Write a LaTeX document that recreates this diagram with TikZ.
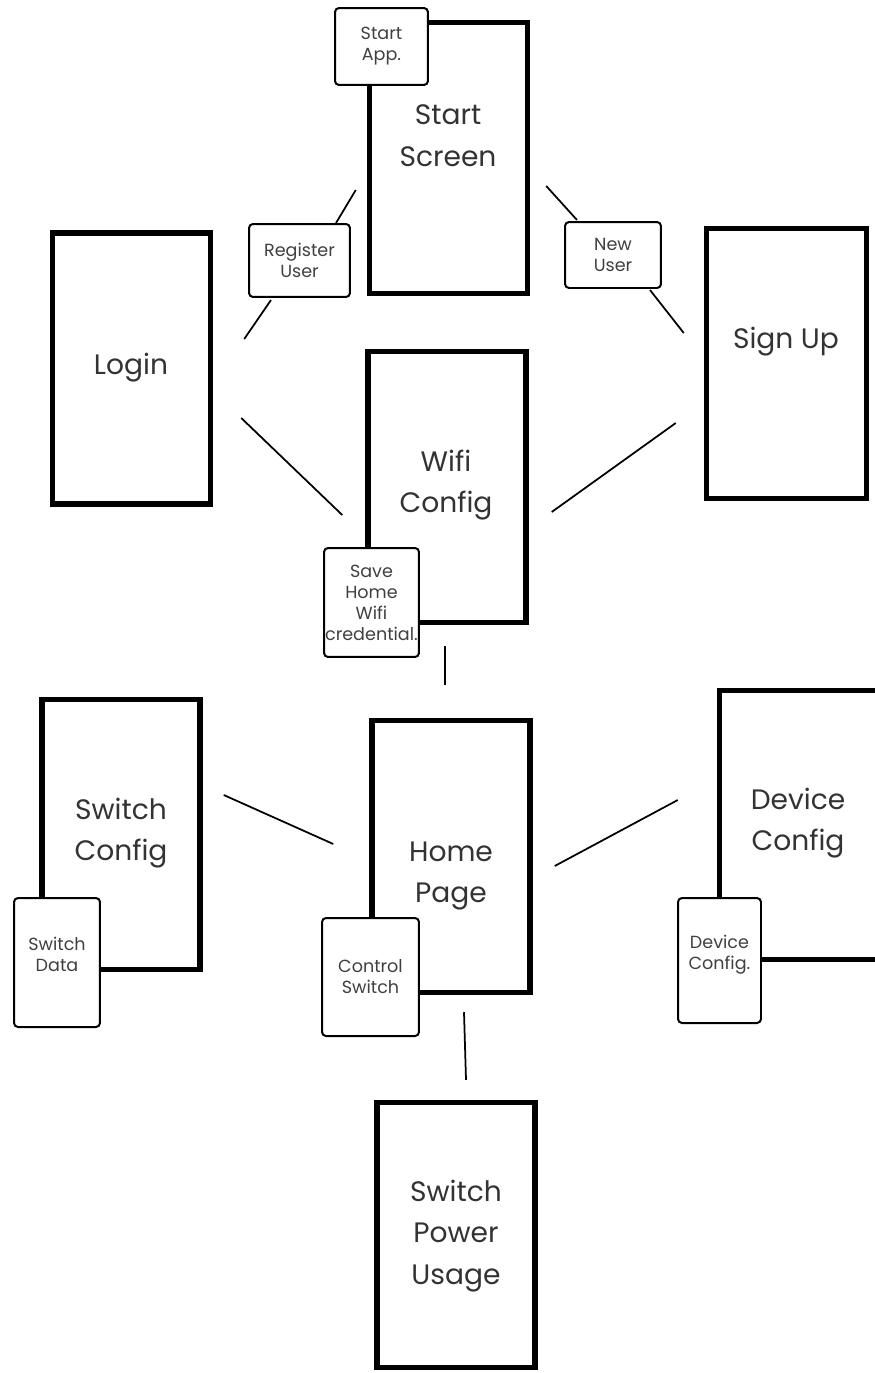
\documentclass[tikz,border=0pt]{standalone}
\usepackage{fontspec}
\setmainfont{Poppins}
\usepackage{tikz}

\begin{document}
\begin{tikzpicture}[x=0.02cm, y=-0.02cm, align=center]
    % Define styles
    \tikzstyle{screen} = [rectangle, draw=black, line width=0.11cm, minimum width=3.16cm, minimum height=5.42cm, fill=white]
    \tikzstyle{title} = [text=black!80, font=\fontsize{16}{23.8}\selectfont]
    \tikzstyle{widget} = [rectangle, rounded corners=0.08cm, draw=black, line width=0.04cm, fill=white, text=black!75, font=\fontsize{10}{12}\selectfont, inner sep=0pt]
    \tikzstyle{link} = [line width=0.035cm]

    \useasboundingbox (0,0) rectangle (875,1373);

    % Screens
    \node (start) [screen] at (448.5,158) {};
    \node (login) [screen] at (131.5,368.5) {};
    \node (signup) [screen, minimum width=3.2cm, minimum height=5.4cm] at (786.5,363.5) {};
    \node (wifi) [screen] at (447,487) {};
    \node (swcfg) [screen, minimum height=5.4cm] at (121,834.5) {};
    \node (home) [screen, minimum height=5.44cm] at (451,856.5) {};
    \node (devcfg) [screen, minimum height=5.38cm] at (798.5,825) {};
    \node (power) [screen, minimum height=5.3cm] at (456,1235) {};

    % Screen titles
    \node (start-t) [title] at (448,136) {Start\\Screen};
    \node (login-t) [title] at (131,368) {Login};
    \node (signup-t) [title] at (786,342) {Sign Up};
    \node (wifi-t) [title] at (446,485) {Wifi\\Config};
    \node (swcfg-t) [title] at (121,833) {Switch\\Config};
    \node (home-t) [title] at (451,876) {Home\\Page};
    \node (devcfg-t) [title] at (798,823) {Device\\Config};
    \node (power-t) [title] at (456,1236) {Switch\\Power\\Usage};

    % Actions
    \node (startapp) [widget, minimum width=1.86cm, minimum height=1.54cm] at (381.5,46.5) {Start\\App.};
    \node (regusr) [widget, minimum width=2.02cm, minimum height=1.46cm] at (299.5,260.5) {Register\\User};
    \node (newusr) [widget, minimum width=1.92cm, minimum height=1.32cm] at (613,255) {New\\User};
    \node (savewifi) [widget, minimum width=1.9cm, minimum height=2.18cm] at (371.5,602.5) {Save\\Home\\Wifi\\credential.};
    \node (swdata) [widget, minimum width=1.72cm, minimum height=2.58cm] at (57,962.5) {Switch\\Data\\[-3pt]};
    \node (ctrlsw) [widget, minimum width=1.94cm, minimum height=2.36cm] at (370.5,977) {Control\\Switch};
    \node (devbtn) [widget, minimum width=1.66cm, minimum height=2.5cm] at (719.5,960.5) {Device\\Config.\\[-3pt]};

    % Links
    \draw [link] ([shift={(-11,32)}]start.west) -- ([shift={(36.5,0)}]regusr.north);
    \draw [link] ([shift={(-28.5,2)}]regusr.south) -- ([shift={(31,-29.5)}]login.east);
    \draw [link] ([shift={(16,28)}]start.east) -- ([shift={(-36,-1)}]newusr.north);
    \draw [link] ([shift={(37,1)}]newusr.south) -- ([shift={(-20,-30.5)}]signup.west);
    \draw [link] ([shift={(28,49.5)}]login.east) -- ([shift={(-23,28)}]wifi.west);
    \draw [link] ([shift={(23,25)}]wifi.east) -- ([shift={(-28,59.5)}]signup.west);
    \draw [link] ([shift={(-2,21)}]wifi.south) -- ([shift={(-6,-33)}]home.north);
    \draw [link] ([shift={(21,-39.5)}]swcfg.east) -- ([shift={(-36,-12.5)}]home.west);
    \draw [link] ([shift={(22,9.5)}]home.east) -- ([shift={(-39,-25)}]devcfg.west);
    \draw [link] ([shift={(13,17)}]home.south) -- ([shift={(10,-20)}]power.north);
\end{tikzpicture}
\end{document}
